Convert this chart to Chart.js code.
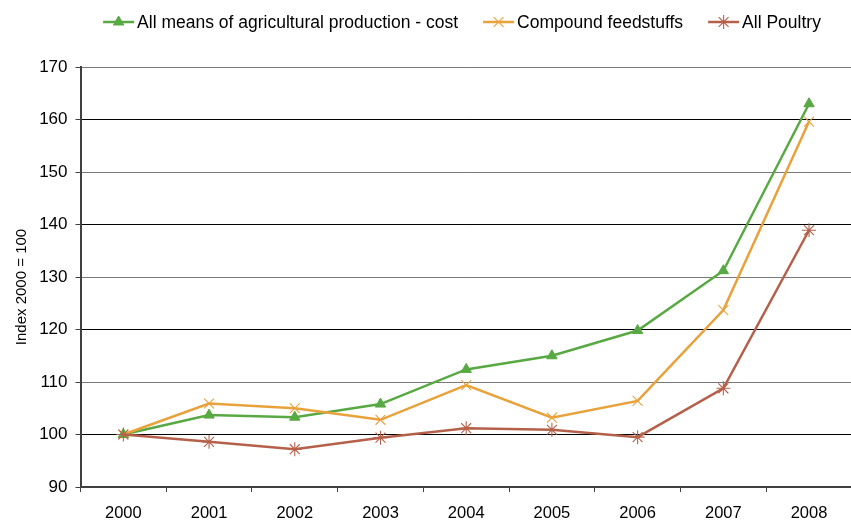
<!DOCTYPE html>
<html>
<head>
<meta charset="utf-8">
<title>Agricultural input prices</title>
<script src="https://cdn.jsdelivr.net/npm/chart.js@4"></script>
<style>
  html, body { margin: 0; padding: 0; background: #fff; overflow: hidden; }
  canvas { display: block; }
</style>
</head>
<body>
<canvas id="chart" width="860" height="522"></canvas>
<script>
const years = ["2000", "2001", "2002", "2003", "2004", "2005", "2006", "2007", "2008"];
const allMeans = [100, 103.7, 103.3, 105.8, 112.4, 115.0, 119.8, 131.2, 163.0];
const compoundFeed = [100, 105.9, 105.0, 102.8, 109.4, 103.2, 106.4, 123.7, 159.6];
const allPoultry = [100, 98.6, 97.2, 99.4, 101.2, 100.9, 99.5, 108.8, 138.9];
const yTitle = "Index 2000 = 100";

const FONT = "'Liberation Sans', Arial, sans-serif";
const AXIS = "#404040";

const series = [
  { label: "All means of agricultural production - cost", data: allMeans,
    color: "#58a943", pointStyle: "triangle", radius: 6, pointBorderWidth: 1, order: 3 },
  { label: "Compound feedstuffs", data: compoundFeed,
    color: "#e9a23b", pointStyle: "crossRot", radius: 7, pointBorderWidth: 1.1, order: 2 },
  { label: "All Poultry", data: allPoultry,
    color: "#b5604a", pointStyle: "star", radius: 7, pointBorderWidth: 1.1, order: 1 },
];

// legend row (line + marker + label) and the rotated y title
const decorations = {
  id: "decorations",
  afterDraw(chart) {
    const ctx = chart.ctx;
    const lineLen = 31, gap = 3, itemGap = 25, y = 22;
    ctx.save();
    ctx.font = "17.5px " + FONT;
    const widths = series.map(s => lineLen + gap + ctx.measureText(s.label).width);
    const total = widths.reduce((a, b) => a + b, 0) + itemGap * (series.length - 1);
    let x = 462 - total / 2;
    series.forEach((s, i) => {
      ctx.strokeStyle = s.color;
      ctx.fillStyle = s.color;
      ctx.lineWidth = 2.5;
      ctx.beginPath();
      ctx.moveTo(x, y);
      ctx.lineTo(x + lineLen, y);
      ctx.stroke();
      ctx.lineWidth = s.pointBorderWidth;
      Chart.helpers.drawPoint(ctx, {
        pointStyle: s.pointStyle, radius: s.radius, rotation: 0, borderWidth: s.pointBorderWidth
      }, x + lineLen / 2, y);
      ctx.fillStyle = "#000";
      ctx.textAlign = "left";
      ctx.textBaseline = "middle";
      ctx.fillText(s.label, x + lineLen + gap, y + 1);
      x += widths[i] + itemGap;
    });

    ctx.translate(22, 287);
    ctx.rotate(-Math.PI / 2);
    ctx.font = "15px " + FONT;
    ctx.fillStyle = "#000";
    ctx.textAlign = "center";
    ctx.textBaseline = "middle";
    ctx.fillText(yTitle, 0, 0);
    ctx.restore();
  }
};

new Chart(document.getElementById("chart"), {
  type: "line",
  data: {
    labels: years,
    datasets: series.map(s => ({
      label: s.label,
      data: s.data,
      order: s.order,
      borderColor: s.color,
      backgroundColor: s.color,
      borderWidth: 2.5,
      tension: 0,
      pointStyle: s.pointStyle,
      pointRadius: s.radius,
      pointBorderWidth: s.pointBorderWidth,
      pointBackgroundColor: s.color,
      pointBorderColor: s.color,
    })),
  },
  options: {
    responsive: false,
    animation: false,
    devicePixelRatio: 1,
    layout: { padding: { top: 67, right: 1, left: 0, bottom: 0 } },
    plugins: {
      legend: { display: false },
      tooltip: { enabled: false },
    },
    scales: {
      x: {
        offset: true,
        grid: {
          offset: true,
          drawOnChartArea: false,
          tickLength: 5,
          tickColor: AXIS,
        },
        border: { color: AXIS, width: 2 },
        ticks: { color: "#000", padding: 12, font: { family: FONT, size: 16.5 } },
        afterFit: (scale) => { scale.height = 35; },
      },
      y: {
        min: 90,
        max: 170,
        ticks: { stepSize: 10, color: "#000", padding: 8, font: { family: FONT, size: 17 } },
        grid: {
          color: (c) => (c.tick && c.tick.value % 20 === 10 ? "#787878" : "#000"),
          lineWidth: 1,
          tickLength: 5,
          tickColor: AXIS,
        },
        border: { color: AXIS, width: 2 },
        afterFit: (scale) => { scale.width = 80.5; },
      },
    },
  },
  plugins: [decorations],
});
</script>
</body>
</html>
